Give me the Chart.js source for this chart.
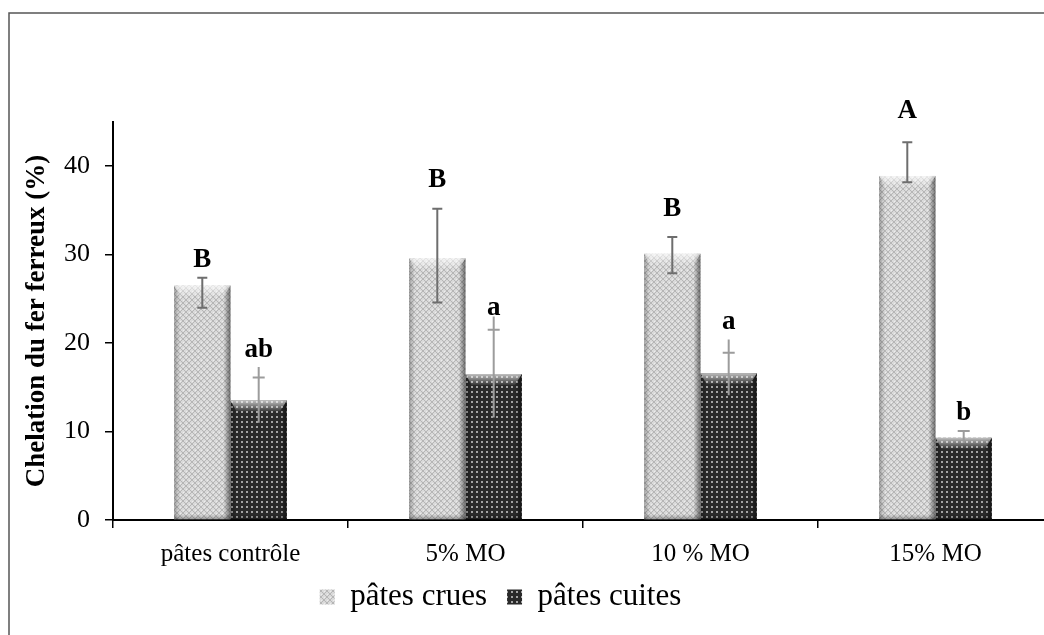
<!DOCTYPE html>
<html>
<head>
<meta charset="utf-8">
<script src="https://cdn.jsdelivr.net/npm/chart.js@4.4.1/dist/chart.umd.min.js"></script>
<style>
html, body { margin: 0; padding: 0; background: #fff; overflow: hidden; width: 1044px; height: 635px; }
#wrap { position: absolute; left: 0; top: 0; width: 1060px; height: 635px; }
</style>
</head>
<body>
<div id="wrap"><canvas id="chart" width="1060" height="635"></canvas></div>
<script>
const categories = ['pâtes contrôle', '5% MO', '10 % MO', '15% MO'];
const yTicks = [0, 10, 20, 30, 40];

const crues = [26.5, 29.6, 30.1, 38.9];
const cruesErrUp = [0.9, 5.6, 1.9, 3.8];
const cruesErrDown = [2.5, 5.0, 2.2, 0.7];
const cruesLetters = ['B', 'B', 'B', 'A'];
const cruesLetterAt = [28.6, 37.7, 34.4, 45.4];

const cuites = [13.5, 16.5, 16.6, 9.3];
const cuitesErrUp = [2.6, 5.0, 2.3, 0.75];
const cuitesErrDown = [2.5, 4.9, 2.5, 0.6];
const cuitesWhisker = [3.8, 6.5, 3.8, 0.75]; // the line runs a bit past its cap
const cuitesLetters = ['ab', 'a', 'a', 'b'];
const cuitesLetterAt = [18.4, 23.2, 21.6, 11.3];

const serif = '"Liberation Serif", "Times New Roman", serif';
const ctx = document.getElementById('chart').getContext('2d');

function makePattern(size, bg, paint) {
    const c = document.createElement('canvas');
    c.width = c.height = size;
    const g = c.getContext('2d');
    g.fillStyle = bg;
    g.fillRect(0, 0, size, size);
    paint(g);
    return ctx.createPattern(c, 'repeat');
}

// light crosshatch for raw pasta, dark dotted grid for cooked pasta
const cruesFill = makePattern(6, '#dadada', g => {
    g.fillStyle = '#b6b6b6';
    for (let i = 0; i < 6; i++) {
        g.fillRect(i, i, 1, 1);
        g.fillRect(5 - i, i, 1, 1);
    }
    g.fillStyle = '#ececec';
    g.fillRect(3, 0, 1, 1);
    g.fillRect(0, 3, 1, 1);
});
const cuitesFill = makePattern(5, '#2a2a2a', g => {
    g.fillStyle = '#a4a4a4';
    g.fillRect(1, 1, 2, 2);
});

const bevel = {
    id: 'bevel',
    afterDatasetsDraw(chart) {
        const c = chart.ctx;
        chart.data.datasets.forEach((ds, di) => {
            chart.getDatasetMeta(di).data.forEach(bar => {
                const l = bar.x - bar.width / 2, r = bar.x + bar.width / 2;
                const t = bar.y, b = bar.base;
                let g = c.createLinearGradient(l, 0, l + 6, 0);
                g.addColorStop(0, 'rgba(0,0,0,0.28)');
                g.addColorStop(1, 'rgba(0,0,0,0)');
                c.fillStyle = g;
                c.fillRect(l, t, 6, b - t);
                g = c.createLinearGradient(r - 7, 0, r, 0);
                g.addColorStop(0, 'rgba(0,0,0,0)');
                g.addColorStop(1, 'rgba(0,0,0,0.5)');
                c.fillStyle = g;
                c.fillRect(r - 7, t, 7, b - t);
                g = c.createLinearGradient(0, t, 0, t + 11);
                g.addColorStop(0, 'rgba(255,255,255,0.7)');
                g.addColorStop(1, 'rgba(255,255,255,0.05)');
                c.fillStyle = g;
                c.beginPath();
                c.moveTo(l, t);
                c.lineTo(r, t);
                c.lineTo(r - 7, t + 11);
                c.lineTo(l + 6, t + 11);
                c.closePath();
                c.fill();
                g = c.createLinearGradient(0, b - 5, 0, b);
                g.addColorStop(0, 'rgba(0,0,0,0)');
                g.addColorStop(1, 'rgba(0,0,0,0.3)');
                c.fillStyle = g;
                c.fillRect(l, b - 5, r - l, 5);
            });
        });
    }
};

const errorBars = {
    id: 'errorBars',
    afterDatasetsDraw(chart) {
        const c = chart.ctx, y = chart.scales.y;
        c.save();
        c.lineWidth = 2;
        chart.getDatasetMeta(0).data.forEach((bar, i) => {
            const top = y.getPixelForValue(crues[i] + cruesErrUp[i]);
            const bot = y.getPixelForValue(crues[i] - cruesErrDown[i]);
            c.strokeStyle = '#6e6e6e';
            c.beginPath();
            c.moveTo(bar.x, top); c.lineTo(bar.x, bot);
            c.moveTo(bar.x - 5, top); c.lineTo(bar.x + 5, top);
            c.moveTo(bar.x - 5, bot); c.lineTo(bar.x + 5, bot);
            c.stroke();
        });
        chart.getDatasetMeta(1).data.forEach((bar, i) => {
            const end = y.getPixelForValue(cuites[i] + cuitesWhisker[i]);
            const cap = y.getPixelForValue(cuites[i] + cuitesErrUp[i]);
            const bot = y.getPixelForValue(cuites[i] - cuitesErrDown[i]);
            c.strokeStyle = '#9c9c9c';
            c.beginPath();
            c.moveTo(bar.x, end); c.lineTo(bar.x, bot);
            c.moveTo(bar.x - 6, cap); c.lineTo(bar.x + 6, cap);
            c.stroke();
        });
        c.restore();
    }
};

const letters = {
    id: 'letters',
    afterDatasetsDraw(chart) {
        const c = chart.ctx, y = chart.scales.y;
        c.save();
        c.font = 'bold 27px ' + serif;
        c.fillStyle = '#000';
        c.textAlign = 'center';
        c.textBaseline = 'alphabetic';
        chart.getDatasetMeta(0).data.forEach((bar, i) => {
            c.fillText(cruesLetters[i], bar.x, y.getPixelForValue(cruesLetterAt[i]));
        });
        chart.getDatasetMeta(1).data.forEach((bar, i) => {
            c.fillText(cuitesLetters[i], bar.x, y.getPixelForValue(cuitesLetterAt[i]));
        });
        c.restore();
    }
};

const frame = {
    id: 'frame',
    beforeDraw(chart) {
        const c = chart.ctx;
        c.save();
        c.strokeStyle = '#555';
        c.lineWidth = 1.5;
        c.strokeRect(9, 13, 1200, 800);
        c.restore();
    },
    afterLayout(chart) {
        // legend sits a little left of the canvas centre and tucked up under the labels
        const lg = chart.legend;
        lg.left -= 26;
        lg.right -= 26;
        lg.top -= 8.5;
        lg.bottom -= 8.5;
    }
};

new Chart(ctx, {
    type: 'bar',
    data: {
        labels: categories,
        datasets: [
            { label: 'pâtes crues', data: crues, backgroundColor: cruesFill, borderWidth: 0 },
            { label: 'pâtes cuites', data: cuites, backgroundColor: cuitesFill, borderWidth: 0 }
        ]
    },
    options: {
        responsive: false,
        animation: false,
        devicePixelRatio: 1,
        layout: { padding: { top: 122, left: 0, right: 7, bottom: 4 } },
        datasets: { bar: { categoryPercentage: 0.48, barPercentage: 1 } },
        scales: {
            x: {
                afterFit: s => { s.height = 50; },
                border: { color: '#000', width: 2 },
                grid: { offset: true, drawOnChartArea: false, drawTicks: true, tickLength: 8, color: '#000', lineWidth: 1.5 },
                ticks: { color: '#000', padding: 11, font: { family: serif, size: 25 } }
            },
            y: {
                min: 0,
                max: 45,
                afterFit: s => { s.width = 113; },
                afterBuildTicks: s => { s.ticks = yTicks.map(v => ({ value: v })); },
                border: { color: '#000', width: 2 },
                grid: { drawOnChartArea: false, drawTicks: true, tickLength: 8, color: '#000', lineWidth: 1.5 },
                ticks: { color: '#000', padding: 15, font: { family: serif, size: 26 } },
                title: {
                    display: true,
                    text: 'Chelation du fer ferreux (%)',
                    color: '#000',
                    padding: { top: 21, bottom: 0 },
                    font: { family: serif, size: 27, weight: 'bold' }
                }
            }
        },
        plugins: {
            legend: {
                position: 'bottom',
                labels: {
                    color: '#000',
                    boxWidth: 15,
                    boxHeight: 15,
                    padding: 20,
                    font: { family: serif, size: 31 }
                }
            },
            tooltip: { enabled: false }
        }
    },
    plugins: [frame, bevel, errorBars, letters]
});
</script>
</body>
</html>
